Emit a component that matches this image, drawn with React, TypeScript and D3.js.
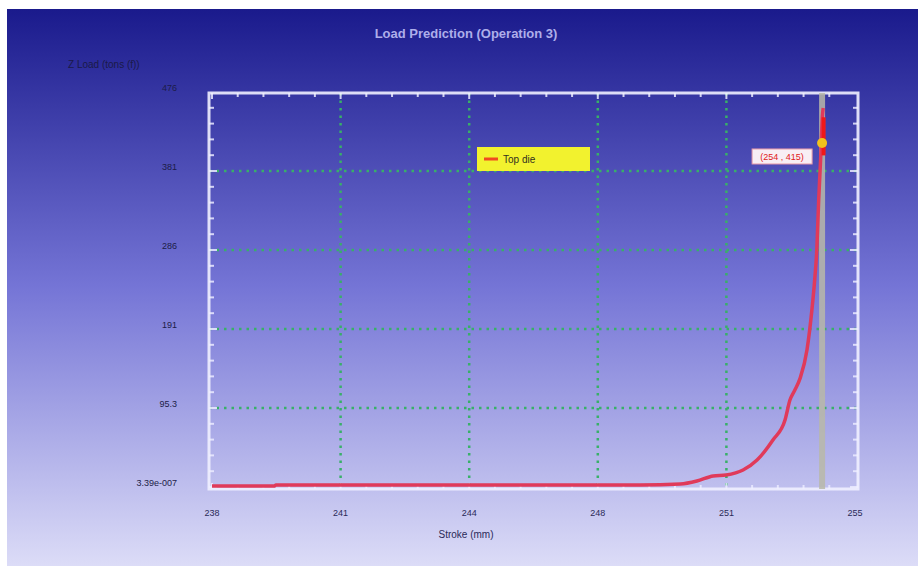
import * as d3 from 'd3';

// Stroke (mm) vs Z load (tons (f)) for the top die
const strokeValues = [
  237.6, 239.24, 239.29, 248.92, 249.98, 250.42, 250.85, 251.19, 251.64, 252.01,
  252.43, 252.75, 252.88, 253.01, 253.15, 253.33, 253.46, 253.54, 253.59, 253.64,
  253.69, 253.74, 253.76,
];
const loadValues = [
  1.2, 1.2, 2.4, 2.4, 3.6, 7.2, 13.3, 14.5, 20.5, 32.6,
  56.7, 80.8, 104.9, 117, 131.3, 165.3, 213.5, 253.3, 285.9, 346.2,
  394.5, 448.8, 457.2,
];
const yTickValues = [0, 95.3, 190.6, 285.9, 381.2, 476.5];
const yTickLabels = ['3.39e-007', '95.3', '191', '286', '381', '476'];
const xTickValues = [237.6, 241, 244.4, 247.8, 251.2, 254.6];
const xTickLabels = ['238', '241', '244', '248', '251', '255'];
const cursor = { stroke: 253.73, load: 415, label: '(254 , 415)' };
const seriesName = 'Top die';

const W = 918;
const H = 566;
const frame = { left: 209, right: 858, top: 93, bottom: 489 };

export default function App() {
  const x = d3.scaleLinear().domain([237.6, 254.6]).range([212, 855]);
  const y = d3.scaleLinear().domain([0, 476.5]).range([487, 92]);

  const pts = strokeValues.map((s, i) => [s, loadValues[i]] as [number, number]);
  const line = d3.line<[number, number]>().x(d => x(d[0])).y(d => y(d[1])).curve(d3.curveMonotoneX);

  // minor ticks: 5 per major interval
  const xMinor: number[] = [];
  for (let i = 0; i < xTickValues.length - 1; i++) {
    const a = xTickValues[i], b = xTickValues[i + 1];
    for (let k = 0; k < 5; k++) xMinor.push(a + ((b - a) * k) / 5);
  }
  const yMinor: number[] = [];
  for (let i = 0; i < yTickValues.length - 1; i++) {
    const a = yTickValues[i], b = yTickValues[i + 1];
    for (let k = 0; k < 5; k++) yMinor.push(a + ((b - a) * k) / 5);
  }

  const cx = x(cursor.stroke);
  const cy = y(cursor.load);
  const font = 'Arial, "Liberation Sans", sans-serif';
  const tickCol = 'rgba(235,235,255,0.85)';
  const gridCol = '#38b068';

  return (
    <svg width={W} height={H} style={{ position: 'absolute', left: 0, top: 0 }} fontFamily={font}>
      <defs>
        <linearGradient id="bg" x1="0" y1="0" x2="0" y2="1">
          <stop offset="0" stopColor="#1a1a8c" />
          <stop offset="0.5" stopColor="#7575d6" />
          <stop offset="1" stopColor="#dcdcf7" />
        </linearGradient>
      </defs>
      <rect x={0} y={0} width={W} height={H} fill="#fff" />
      <rect x={7} y={9} width={W - 7} height={H - 9} fill="url(#bg)" />

      <text x={466} y={38} textAnchor="middle" fontSize={13} fontWeight="bold" fill="#aeaeea">
        Load Prediction (Operation 3)
      </text>
      <text x={68} y={68} fontSize={10} fill="#1a1a48">Z Load (tons (f))</text>

      {/* grid */}
      {xTickValues.slice(1, -1).map((v, i) => (
        <line key={'gx' + i} x1={x(v)} x2={x(v)} y1={frame.top} y2={frame.bottom}
          stroke={gridCol} strokeWidth={2.5} strokeDasharray="2.5 5" />
      ))}
      {yTickValues.slice(1, -1).map((v, i) => (
        <line key={'gy' + i} x1={frame.left} x2={frame.right} y1={y(v)} y2={y(v)}
          stroke={gridCol} strokeWidth={2.5} strokeDasharray="2.5 5" />
      ))}

      {/* minor/major ticks inside frame */}
      {xMinor.map((v, i) => {
        const major = i % 5 === 0;
        const len = major ? 6 : 4;
        return (
          <g key={'tx' + i} stroke={tickCol} strokeWidth={2}>
            <line x1={x(v)} x2={x(v)} y1={frame.top} y2={frame.top + len} />
            <line x1={x(v)} x2={x(v)} y1={frame.bottom} y2={frame.bottom - len} />
          </g>
        );
      })}
      {yMinor.map((v, i) => {
        const major = i % 5 === 0;
        const len = major ? 8 : 5;
        return (
          <g key={'ty' + i} stroke={tickCol} strokeWidth={2}>
            <line x1={frame.left} x2={frame.left + len} y1={y(v)} y2={y(v)} />
            <line x1={frame.right} x2={frame.right - len} y1={y(v)} y2={y(v)} />
          </g>
        );
      })}

      <rect x={frame.left} y={frame.top} width={frame.right - frame.left} height={frame.bottom - frame.top}
        fill="none" stroke="rgba(240,240,255,0.9)" strokeWidth={3} />

      {/* cursor line */}
      <line x1={cx} x2={cx} y1={frame.top} y2={frame.bottom} stroke="#b9b9a8" strokeOpacity={0.85} strokeWidth={6} />

      {/* series */}
      <path d={line(pts) || ''} fill="none" stroke="#e03a5a" strokeWidth={3.5} strokeLinejoin="round" />
      <line x1={cx + 1.5} x2={cx + 1.5} y1={y(446)} y2={y(400)} stroke="#f01818" strokeWidth={4} />
      <circle cx={cx} cy={cy} r={5} fill="#f2c21c" />

      {/* cursor label */}
      <rect x={cx - 70} y={cy + 6} width={60} height={15} fill="#f8eef4" stroke="#e89aa8" strokeWidth={1} />
      <text x={cx - 40} y={cy + 17} textAnchor="middle" fontSize={9} fill="#e02020">{cursor.label}</text>

      {/* legend */}
      <rect x={477} y={147} width={113} height={24} fill="#f2f22e" />
      <line x1={484} x2={498} y1={159} y2={159} stroke="#f04a20" strokeWidth={3} />
      <text x={503} y={163} fontSize={10} fill="#303020">{seriesName}</text>

      {/* axis labels */}
      {yTickValues.map((v, i) => (
        <text key={'yl' + i} x={177} y={y(v) - 1} textAnchor="end" fontSize={9} fill="#1c1c48">
          {yTickLabels[i]}
        </text>
      ))}
      {xTickValues.map((v, i) => (
        <text key={'xl' + i} x={x(v)} y={516} textAnchor="middle" fontSize={9} fill="#2a2a58">
          {xTickLabels[i]}
        </text>
      ))}
      <text x={466} y={538} textAnchor="middle" fontSize={10} fill="#2a2a58">Stroke (mm)</text>
    </svg>
  );
}
